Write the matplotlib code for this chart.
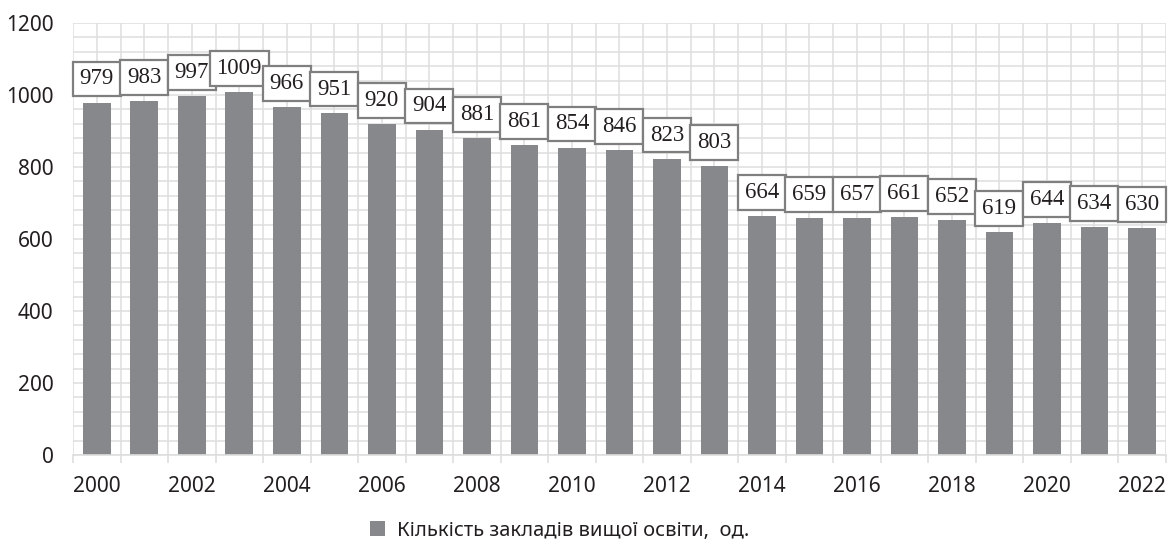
import numpy as np
import matplotlib.pyplot as plt
from matplotlib.ticker import MultipleLocator

years = list(range(2000, 2023))
counts = [979, 983, 997, 1009, 966, 951, 920, 904, 881, 861, 854, 846, 823, 803,
          664, 659, 657, 661, 652, 619, 644, 634, 630]
legend_label = "Кількість закладів вищої освіти,  од."

BAR = "#87888c"
GRID = "#dedede"
TXT = "#231f20"

plt.rcParams["font.family"] = ["Noto Sans", "DejaVu Sans"]

fig = plt.figure(figsize=(11.68, 5.54), dpi=100)
ax = fig.add_axes([0.0625, 0.1787, 0.9355, 0.7798])

x = np.arange(len(years))
ax.bar(x, counts, width=0.58, color=BAR, zorder=2, label=legend_label)

# підписи значень у рамках над стовпцями
for xi, v in zip(x, counts):
    ax.annotate(str(v), (xi, v), xytext=(0, 17), textcoords="offset points",
                ha="center", va="center", fontsize=16.5, family="Liberation Serif",
                color=TXT, zorder=4,
                bbox=dict(boxstyle="square,pad=0.3", fc="white", ec="#7f7f7f", lw=1.6))

ax.set_xlim(-0.5, len(years) - 0.5)
ax.set_ylim(0, 1200)
ax.yaxis.set_major_locator(MultipleLocator(200))
ax.yaxis.set_minor_locator(MultipleLocator(40))
ax.set_xticks(x)
ax.set_xticklabels([str(y) if (y % 2 == 0) else "" for y in years])
ax.set_xticks(np.arange(len(years) + 1) - 0.5, minor=True)

ax.tick_params(axis="y", which="both", length=0, pad=14, labelsize=15, labelcolor=TXT)
ax.tick_params(axis="x", which="major", length=0, pad=15, labelsize=15, labelcolor=TXT)
ax.tick_params(axis="x", which="minor", length=6, width=1.2, color=GRID)

ax.grid(True, which="both", color=GRID, lw=1.1, zorder=0)
ax.set_axisbelow(True)
for s in ["top", "right", "left"]:
    ax.spines[s].set_visible(False)
ax.spines["bottom"].set_color(GRID)
ax.spines["bottom"].set_linewidth(1.2)

fig.legend(loc="center", bbox_to_anchor=(0.479, 0.042), frameon=False, fontsize=14.5,
           handlelength=0.75, handleheight=0.75, handletextpad=0.6, labelcolor=TXT)

fig.savefig("out.png", dpi=100)
